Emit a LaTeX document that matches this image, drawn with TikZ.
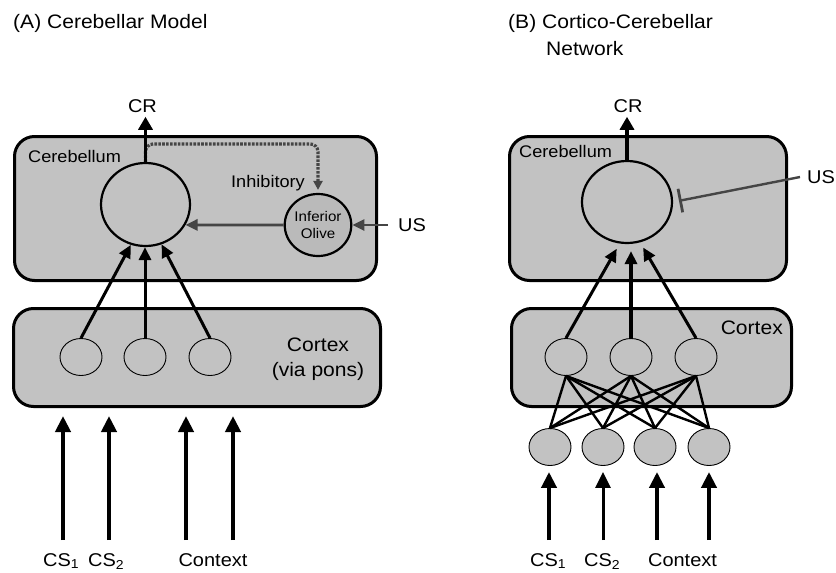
\documentclass[tikz,border=0pt]{standalone}
\usepackage{fontspec}
\setmainfont{Liberation Sans}[FakeStretch=1.08]
\usetikzlibrary{arrows.meta,shapes.geometric}
\definecolor{panel}{gray}{0.76}
\definecolor{olivefill}{gray}{0.73}
\definecolor{darkline}{gray}{0.27}
\begin{document}
\begin{tikzpicture}[x=1pt,y=-1pt,
  region/.style={rectangle, draw=black, line width=3pt, fill=panel, rounded corners=20pt, inner sep=0pt},
  bigcell/.style={ellipse, draw=black, line width=2.2pt, minimum width=89pt, minimum height=83pt, inner sep=0pt},
  unit/.style={ellipse, draw=black, line width=0.9pt, minimum width=42pt, minimum height=37pt, inner sep=0pt},
  inunit/.style={unit, fill=panel},
  olivecell/.style={ellipse, draw=black, line width=2.2pt, fill=olivefill, minimum width=66pt, minimum height=62pt, inner sep=0pt, align=center, font=\fontsize{14}{16.5}\selectfont},
  title/.style={inner sep=0pt, anchor=base west, font=\fontsize{19.5}{23}\selectfont},
  lbl/.style={inner sep=0pt, font=\fontsize{18.5}{22}\selectfont},
  small/.style={inner sep=0pt, font=\fontsize{16.8}{20}\selectfont},
  bigarrow/.style={line width=4pt, -{Triangle[length=16pt,width=15pt]}},
  outarrow/.style={line width=3.2pt, -{Triangle[length=13pt,width=14pt]}},
  feed/.style={line width=3pt, -{Triangle[length=13pt,width=12pt]}},
  mesh/.style={line width=2.4pt},
  grayarrow/.style={draw=darkline, line width=2.8pt, -{Triangle[length=12pt,width=11pt]}},
  inhibpath/.style={draw=darkline, line width=3.2pt, dash pattern=on 2.6pt off 1.3pt, rounded corners=8pt, -{Triangle[length=9pt,width=9pt]}},
  blockline/.style={draw=darkline, line width=2.4pt, -{Bar[width=24pt,line width=2.8pt]}}
]
\useasboundingbox (0,0) rectangle (836,573);

% ---------------- (A) Cerebellar model ----------------
\node[title] (titleA) at (13,28) {(A) Cerebellar Model};

\node[region, minimum width=362pt, minimum height=144pt] (cbA) at (195.5,208.5) {};
\node[small, anchor=west] (cbAlbl) at (28,156) {Cerebellum};
\node[region, minimum width=367pt, minimum height=98pt] (ctxA) at (197,357.5) {};
\node[lbl, align=center, font=\fontsize{19.5}{25}\selectfont] (ctxAlbl) at (318,359) {Cortex\\(via pons)};

\node[bigcell] (cellA) at (145.5,204.5) {};
\node[olivecell] (olive) at (318,225) {Inferior\\Olive};
\node[small, anchor=east] (inh) at (305,183) {Inhibitory};

\node[unit] (uA1) at (81,357) {};
\node[unit] (uA2) at (145,357) {};
\node[unit] (uA3) at (210,357) {};

\draw[feed] (uA1.north) -- (cellA.250);
\draw[feed] (uA2.north) -- (uA2.north |- cellA.south);
\draw[feed] (uA3.north) -- (cellA.292);

% inhibitory loop from the cerebellar output to the olive
\draw[inhibpath, shorten >=3pt] (cellA.north) |- ([yshift=49pt]olive.north) -- (olive.north);
% climbing-fibre teaching signal
\draw[grayarrow] (olive.west) -- (cellA.333);
\node[lbl, anchor=west, inner xsep=10pt, inner ysep=0pt] (usA) at (388,225) {US};
\draw[grayarrow] (usA.west) -- (olive.east);

% conditioned response
\node[lbl] (crA) at (142.5,106) {CR};
\draw[outarrow, shorten >=4pt] (cellA.north) -- (cellA.north |- crA.south);

% inputs
\coordinate (inA1) at (63,540);
\coordinate (inA2) at (109,540);
\coordinate (inA3) at (186,540);
\coordinate (inA4) at (233,540);
\foreach \k in {1,...,4}
  \draw[bigarrow, shorten >=8pt] (inA\k) -- (inA\k |- ctxA.south);
\node[lbl, anchor=base west] (csA1) at (43,566) {CS\textsubscript{1}};
\node[lbl, anchor=base west] (csA2) at (88,566) {CS\textsubscript{2}};
\node[lbl, anchor=base] (cxA) at (213,566) {Context};

% ---------------- (B) Cortico-cerebellar network ----------------
\node[title] (titleB) at (508,28) {(B) Cortico-Cerebellar};
\node[title] (titleB2) at (546,55) {Network};

\node[region, minimum width=277pt, minimum height=144pt] (cbB) at (648,208.5) {};
\node[small, anchor=west] (cbBlbl) at (519,151) {Cerebellum};
\node[region, minimum width=280pt, minimum height=98pt] (ctxB) at (651.5,357.5) {};
\node[lbl, anchor=east, font=\fontsize{19.5}{23}\selectfont] (ctxBlbl) at (783,328) {Cortex};

\node[bigcell, minimum width=90pt, minimum height=82pt] (cellB) at (627,202) {};

\node[unit] (uB1) at (566,357) {};
\node[unit] (uB2) at (631,357) {};
\node[unit] (uB3) at (696,357) {};

\node[inunit] (vB1) at (550,447) {};
\node[inunit] (vB2) at (603,447) {};
\node[inunit] (vB3) at (655,447) {};
\node[inunit] (vB4) at (709,447) {};

\foreach \i in {1,2,3}
  \foreach \j in {1,...,4}
    \draw[mesh] (uB\i.south) -- (vB\j.north);

\draw[feed, shorten >=6pt] (uB1.north) -- (cellB.260);
\draw[feed, line width=3.6pt, shorten >=7pt] (uB2.north) -- (uB2.north |- cellB.south);
\draw[feed, shorten >=6pt] (uB3.north) -- (cellB.288);

\node[lbl] (crB) at (628,106) {CR};
\draw[outarrow, shorten >=4pt] (cellB.north) -- (cellB.north |- crB.south);

\node[lbl, anchor=west, inner xsep=7pt, inner ysep=0pt] (usB) at (800,177) {US};
\draw[blockline, shorten >=6pt] (usB.west) -- (cellB.east);

\coordinate (inB1) at (549,540);
\coordinate (inB2) at (603,540);
\coordinate (inB3) at (657,540);
\coordinate (inB4) at (709,540);
\draw[bigarrow, line width=4.4pt, shorten >=6pt] (inB1) -- (inB1 |- vB1.south);
\draw[bigarrow, line width=3pt, shorten >=6pt] (inB2) -- (inB2 |- vB2.south);
\draw[bigarrow, shorten >=6pt] (inB3) -- (inB3 |- vB3.south);
\draw[bigarrow, shorten >=6pt] (inB4) -- (inB4 |- vB4.south);
\node[lbl, anchor=base west] (csB1) at (530,566) {CS\textsubscript{1}};
\node[lbl, anchor=base west] (csB2) at (584,566) {CS\textsubscript{2}};
\node[lbl, anchor=base] (cxB) at (682.5,566) {Context};
\end{tikzpicture}
\end{document}
